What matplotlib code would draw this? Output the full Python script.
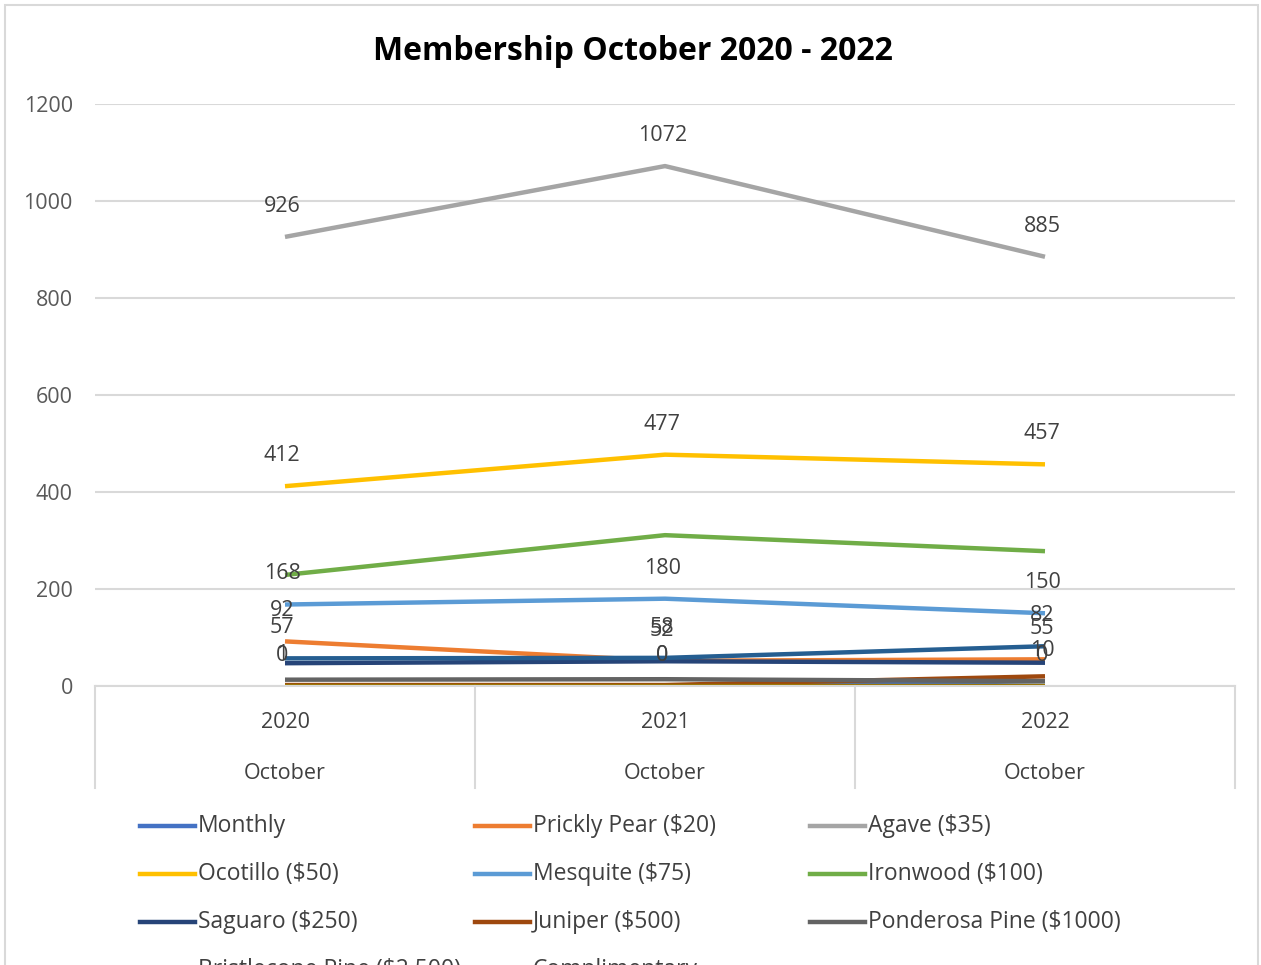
import matplotlib
matplotlib.use("Agg")
import matplotlib.pyplot as plt
from matplotlib.lines import Line2D
from matplotlib.patches import Rectangle
import matplotlib.transforms as mtransforms

plt.rcParams['font.family'] = ['Open Sans', 'DejaVu Sans']

# data
years = ['2020', '2021', '2022']
month = 'October'
series_names = ['Monthly', 'Prickly Pear ($20)', 'Agave ($35)', 'Ocotillo ($50)',
                'Mesquite ($75)', 'Ironwood ($100)', 'Saguaro ($250)', 'Juniper ($500)',
                'Ponderosa Pine ($1000)', 'Bristlecone Pine ($2,500)', 'Complimentary']
monthly = [1, 0, 10]
prickly_pear = [92, 52, 55]
agave = [926, 1072, 885]
ocotillo = [412, 477, 457]
mesquite = [168, 180, 150]
ironwood = [229, 311, 278]
saguaro = [47, 51, 48]
juniper = [2, 2, 20]
ponderosa = [13, 14, 10]
bristlecone = [0, 0, 0]
complimentary = [57, 58, 82]
all_values = [monthly, prickly_pear, agave, ocotillo, mesquite, ironwood,
              saguaro, juniper, ponderosa, bristlecone, complimentary]
has_labels = [True, True, True, True, True, False, False, False, False, True, True]

colors = ['#4472C4', '#ED7D31', '#A5A5A5', '#FFC000', '#5B9BD5', '#70AD47',
          '#264478', '#9E480E', '#636363', '#997300', '#255E91']

W, H = 1261, 965
fig = plt.figure(figsize=(W / 100, H / 100), dpi=100)

# outer chart border
fig.add_artist(Rectangle((5 / W, -0.01), (1253 / W), 1 - 5 / H + 0.01,
                         transform=fig.transFigure, fill=False,
                         edgecolor='#D9D9D9', linewidth=1.5))

ax = fig.add_axes([95 / W, 1 - 686 / H, 1140 / W, 582 / H])
x = [i + 0.5 for i in range(len(years))]

for vals, name, col, lab in zip(all_values, series_names, colors, has_labels):
    ax.plot(x, vals, color=col, linewidth=3.2, solid_capstyle='butt', label=name)
    if lab:
        for xi, v in zip(x, vals):
            ax.annotate(str(v), (xi, v), xytext=(-2, 22), textcoords='offset points',
                        ha='center', va='center', fontsize=15.5, color='#404040')

ax.set_xlim(0, len(years))
ax.set_ylim(0, 1200)
ax.set_yticks(range(0, 1201, 200))
ax.set_xticks([])
ax.tick_params(axis='y', length=0, pad=16, labelsize=15.5, labelcolor='#595959')
ax.grid(axis='y', color='#D9D9D9', linewidth=1.5)
ax.set_axisbelow(True)
for s in ['left', 'right', 'top']:
    ax.spines[s].set_visible(False)
ax.spines['bottom'].set_color('#D9D9D9')
ax.spines['bottom'].set_linewidth(1.5)

# two-level category axis
trans = mtransforms.blended_transform_factory(ax.transData, ax.transAxes)
for xi, yr in zip(x, years):
    ax.text(xi, -0.062, yr, transform=trans, ha='center', va='center',
            fontsize=15.5, color='#404040')
    ax.text(xi, -0.1495, month, transform=trans, ha='center', va='center',
            fontsize=15.5, color='#404040')
for b in range(len(years) + 1):
    ax.plot([b, b], [0, -0.1753], transform=trans, color='#D9D9D9',
            linewidth=1.5, clip_on=False)

fig.text(0.502, 1 - 52 / H, 'Membership October 2020 - 2022', ha='center',
         va='center', fontsize=23, fontweight='bold', color='black')

# legend laid out row by row, like Excel
col_x = [140, 475, 810]
row_y = [826, 874, 922, 970]
for i, (name, col) in enumerate(zip(series_names, colors)):
    r, c = divmod(i, 3)
    x0 = col_x[c] / W
    y0 = 1 - row_y[r] / H
    fig.add_artist(Line2D([x0, x0 + 55 / W], [y0, y0], transform=fig.transFigure,
                          color=col, linewidth=3.2))
    fig.text(x0 + 58 / W, y0, name, ha='left', va='center', fontsize=16.5,
             color='#404040')

fig.savefig('out.png', dpi=100, facecolor='white')
